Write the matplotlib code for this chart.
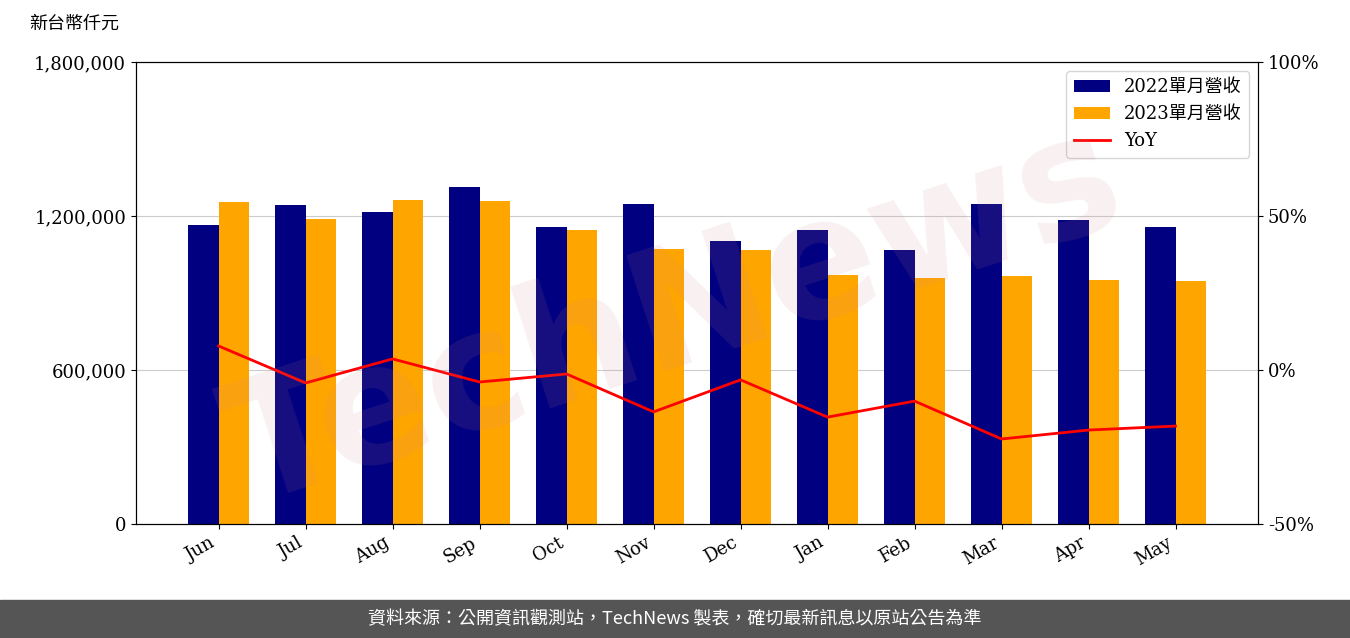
import matplotlib
matplotlib.use("Agg")
import matplotlib.pyplot as plt
import numpy as np

months = ["Jun","Jul","Aug","Sep","Oct","Nov","Dec","Jan","Feb","Mar","Apr","May"]
rev2022 = [1165000,1243000,1216000,1313000,1157000,1247000,1103000,1145000,1068000,1247000,1184000,1157000]
rev2023 = [1255000,1188000,1262000,1258000,1145000,1071000,1068000,970000,958000,966000,951000,947000]
yoy = [7.8,-4.2,3.6,-3.9,-1.3,-13.6,-3.2,-15.3,-10.1,-22.4,-19.5,-18.2]

plt.rcParams['font.family'] = ['DejaVu Serif','Noto Sans CJK TC']
fig = plt.figure(figsize=(13.5,6.38), dpi=100)
ax = fig.add_axes([0.1007,0.1787,0.8313,0.7241])
x = np.arange(len(months))
w = 0.35
b1 = ax.bar(x-w/2, rev2022, w, color='#000080', label='2022單月營收', zorder=2)
b2 = ax.bar(x+w/2, rev2023, w, color='#FFA500', label='2023單月營收', zorder=2)
ax.set_ylim(0,1800000)
ax.set_yticks([0,600000,1200000,1800000])
ax.set_yticklabels(['0','600,000','1,200,000','1,800,000'], fontsize=13)
ax.grid(axis='y', color='#cccccc', zorder=0)
ax.set_xticks(x)
ax.set_xticklabels(months, rotation=30, ha='right', fontsize=13)
ax.set_xlim(-0.95, 11.95)
ax2 = ax.twinx()
l, = ax2.plot(x, yoy, color='red', lw=2, label='YoY')
ax2.set_ylim(-50,100)
ax2.set_yticks([-50,0,50,100])
ax2.set_yticklabels(['-50%','0%','50%','100%'], fontsize=13)
ax.legend([b1,b2,l],['2022單月營收','2023單月營收','YoY'], loc='upper right', fontsize=13)
fig.text(0.022,0.955,'新台幣仟元', fontsize=13, family=['Noto Sans CJK TC'])
fig.text(0.5,0.5,'TechNews', fontsize=120, color='#cc8888', alpha=0.12, rotation=18,
         ha='center', va='center', family=['DejaVu Sans'], fontweight='bold')
fig.patches.append(plt.Rectangle((0,0),1,0.06,transform=fig.transFigure,color='#555555',zorder=-1))
fig.text(0.5,0.03,'資料來源：公開資訊觀測站，TechNews 製表，確切最新訊息以原站公告為準', color='white',
         fontsize=13, ha='center', va='center', family=['Noto Sans CJK TC'])
fig.savefig('out.png')
